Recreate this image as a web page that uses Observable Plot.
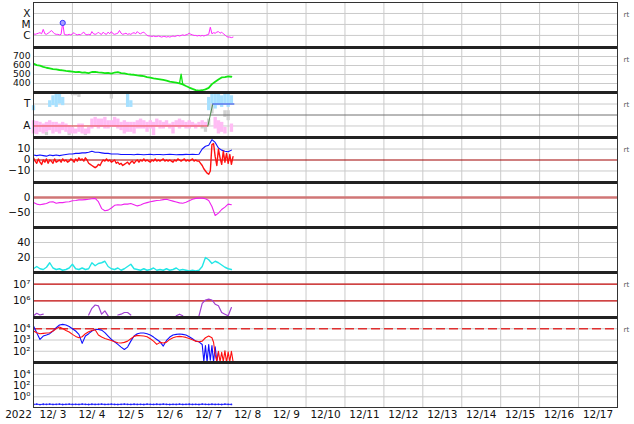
<!DOCTYPE html>
<html><head><meta charset="utf-8">
<script src="https://cdn.jsdelivr.net/npm/d3@7"></script>
<script src="https://cdn.jsdelivr.net/npm/@observablehq/plot@0.6"></script>
<style>
body{margin:0;background:#fff;}
#chart{position:relative;width:634px;height:424px;overflow:hidden;background:#fff;}
#chart svg{position:absolute;left:0;overflow:visible;background:transparent;}
</style></head><body><div id="chart"></div>
<script>
// ---------- labels ----------
const yearLabel = "2022";
const xTickLabels = ["12/ 3","12/ 4","12/ 5","12/ 6","12/ 7","12/ 8","12/ 9","12/10","12/11","12/12","12/13","12/14","12/15","12/16","12/17"];
const rtLabel = "rt";
const xrayTicks = [1e-4, 1e-5, 1e-6];
const xrayLabels = ["X", "M", "C"];
const speedTicks = [700, 600, 500, 400];
const sectorTicks = [1, -1];
const sectorLabels = ["T", "A"];
const imfTicks = [10, 0, -10];
const dstTicks = [0, -50];
const densTicks = [40, 20];
const e7Ticks = [1e7, 1e6];
const e7Labels = ["10⁷", "10⁶"];
const e8Ticks = [1e4, 1e3, 1e2];
const e8Labels = ["10⁴", "10³", "10²"];
const e9Ticks = [1e4, 1e2, 1];
const e9Labels = ["10⁴", "10²", "10⁰"];

// ---------- data (hours from 2022-12-03 00:00 UT) ----------
// X-ray flux, log10 W/m2, hourly
const xrayLog = [-5.85,-5.9,-5.85,-5.8,-5.75,-5.85,-5.45,-5.85,-5.9,-5.8,-5.7,-5.55,-5.7,-5.85,-5.9,-5.9,-5.95,-5.9,-4.86,-5.9,
 -5.95,-5.95,-5.9,-5.95,-5.85,-5.75,-5.9,-5.95,-5.9,-5.95,-5.8,-5.7,-5.9,-5.95,-5.9,-5.95,-5.65,-5.85,-5.9,-5.85,
 -5.7,-5.85,-5.9,-5.7,-5.85,-5.9,-5.7,-5.85,-5.65,-5.85,-5.9,-5.85,-5.8,-5.55,-5.8,-5.9,-5.85,-5.8,-5.9,-5.85,
 -5.9,-5.8,-5.75,-5.85,-5.65,-5.8,-5.85,-5.75,-5.7,-5.85,-6.0,-6.05,-6.05,-6.1,-6.05,-6.1,-6.1,-6.05,-6.1,-6.15,
 -6.1,-6.1,-6.15,-6.1,-6.15,-6.1,-6.05,-6.1,-6.05,-6.0,-6.05,-6.0,-5.95,-6.0,-5.95,-5.9,-5.8,-5.9,-5.95,-6.0,
 -6.0,-6.05,-6.0,-6.05,-6.0,-6.05,-6.0,-5.95,-5.9,-5.25,-5.85,-5.75,-5.8,-5.7,-5.65,-5.8,-5.7,-5.85,-5.95,-6.1,
 -6.15,-6.15,-6.2,-6.15];
const flareHours = [18];
const flareFlux = [1.38e-5];

// Solar wind speed km/s, 2-hourly
const speed = [620,605,598,585,575,568,560,556,550,545,540,536,532,526,528,520,522,515,528,530,
 524,520,516,518,510,522,526,515,512,505,500,497,490,486,482,472,466,458,452,446,
 440,432,422,416,410,402,390,372,355,340,326,320,325,335,352,393,420,445,467,472,480,475];
const speedSpikeHours = [90, 91, 92];
const speedSpike = [402, 505, 390];

// Sector (IMF direction) spread, 2-hourly, in units where T=+1, A=-1
const pinkHi = [-0.52,-0.58,-0.67,-0.82,-0.67,-0.52,-0.67,-0.67,-0.82,-0.67,
 -0.82,-0.97,-1.13,-1.28,-0.82,-0.82,-1.28,-1.13,-0.37,-0.22,
 -0.37,-0.37,-0.22,-0.52,-0.52,-0.22,-0.37,-0.67,-0.52,-0.67,
 -0.67,-0.67,-0.52,-0.37,-0.52,-0.67,-0.52,-0.67,-0.37,-0.52,
 -0.67,-0.52,-0.82,-0.67,-0.52,-0.37,-0.52,-0.67,-0.52,-0.67,
 -0.82,-0.67,-0.52,-0.67,null,null,-0.22,-0.52,-0.67,-1.13,null,-0.82];
const pinkLo = [-1.73,-1.79,-1.58,-1.73,-1.58,-1.43,-1.73,-1.58,-1.73,-1.43,
 -1.58,-1.73,-1.73,-1.73,-1.58,-1.73,-1.79,-1.73,-1.28,-1.13,
 -1.28,-1.13,-1.28,-1.28,-1.13,-1.13,-1.28,-1.43,-1.73,-1.58,
 -1.58,-1.73,-1.28,-1.28,-1.28,-1.58,-1.28,-1.88,-1.13,-1.28,
 -1.28,-1.13,-1.28,-1.73,-1.13,-1.28,-1.13,-1.28,-1.28,-1.13,
 -1.28,-1.13,-0.97,-1.13,null,null,-1.28,-1.73,-1.58,-1.73,null,-1.58];
const blueHours = [0,10,12,14,16,18,58,60,108,110,112,114,116,118,120,122];
const blueHi = [0.85,1.3,1.75,1.9,1.9,1.6,1.9,1.3,1.6,2.0,1.9,1.9,1.75,1.9,1.9,1.75];
const blueLo = [0.39,0.69,0.85,0.69,0.995,0.85,0.69,0.69,0.39,0.995,0.54,0.85,0.69,0.995,0.69,0.995];
const grayHours = [8,22,24,26,28,32,48,104,106,108,110,118,120];
const grayHi = [-1.58,-1.43,2.0,2.0,1.9,-1.58,1.9,-0.97,-1.13,-0.37,0.995,0.39,0.39];
const grayLo = [-1.88,-1.88,1.75,1.75,1.6,-1.88,1.45,-1.28,-1.58,-0.97,0.09,-0.22,-0.52];
const sectorHours = [0, 107.5, 110.5, 123.5];
const sectorState = [-1, -1, 1, 1];

// IMF Bt (2-hourly) and Bz (hourly), nT
const bt = [4.5,4.0,4.5,4.0,3.5,4.5,4.0,4.5,4.0,4.5,5.0,5.5,5.5,6.0,6.0,6.5,6.5,7.0,8.0,7.0,
 7.0,6.5,6.0,6.0,5.5,5.5,5.5,5.0,5.0,5.0,5.0,4.8,5.2,5.0,4.8,5.0,5.2,4.8,5.0,5.0,
 4.8,5.0,5.2,5.0,4.8,5.0,4.9,5.1,5.0,5.2,5.0,5.2,10.0,12.5,13.5,18.5,16.0,11.0,9.0,8.0,7.5,9.0];
const bz = [2,-1,-3,1,-2,-4, 0,-2,1,-3,0,-1, -3,1,-2,-1,0,-2, 1,-1,0,-2,-1,1, 0,-2,1,-1,2,0,
 1,-1,2,0,-3,-4, -5,-6,-7,-6,-4,-5, -2,0,-1,1,-1,0, -2,-1,0,-3,-2,-4, -3,-5,-4,-3,-2,-4,
 -2,-1,-3,-1,0,-2, 0,-1,1,-1,0,-1, -2,0,-1,1,-1,0, -1,0,1,-1,0,-1, 0,-1,-2,0,-1,1,
 0,-1,0,1,-1,0, -1,0,1,-1,0,-1, -1,-3,-5,-8,-10,-12, -13,-10,14,15,3,-5, 10,2,-4,8,-2,6, -3,5,-4,3];

// Dst nT, 2-hourly
const dst = [-17,-22,-24,-22,-20,-15,-14,-19,-17,-17,-15,-14,-11,-10,-8,-8,-7,-6,-4,-3,
 -14,-37,-44,-42,-35,-26,-24,-25,-22,-22,-20,-24,-28,-25,-20,-17,-14,-12,-10,-9,
 -7,-6,-9,-12,-15,-18,-19,-16,-11,-6,-3,-2,-2,-4,-10,-30,-60,-52,-40,-32,-22,-24];

// Density, 2-hourly
const dens = [5,8,5,4,7,13,6,4,5,3,4,6,11,5,4,6,4,5,13,9,
 12,13,15,8,5,4,6,3,5,8,11,5,4,3,5,3,4,6,3,4,
 3,5,3,4,6,3,4,3,2,3,2,3,8,20,17,12,15,13,10,7,5,4];

// Electron flux (log10), 2-hourly, null = no data
const e7Log = [5.1,5.25,5.15,5.2,null,null,null,null,null,null,
 null,null,null,null,null,null,null,5.15,5.55,5.75,
 5.7,5.2,5.4,5.1,null,null,5.15,5.2,5.3,5.3,
 5.15,null,null,null,null,null,null,null,null,null,
 null,5.05,null,null,5.1,5.2,5.1,null,null,null,
 null,5.1,5.85,6.05,6.1,6.05,5.8,5.7,5.3,5.2,5.1,5.6];

// Particle flux (log10), two sources
const e8BlueLog = [4.24,3.65,3.05,3.35,3.44,3.56,3.8,4.09,4.33,4.39,4.33,4.2,4.0,3.8,3.5,2.7,3.35,3.56,3.8,3.94,
 3.94,3.88,3.65,3.35,3.05,2.84,2.61,2.37,2.16,2.37,2.9,3.35,3.56,3.62,3.62,3.56,3.44,3.26,3.05,2.84,
 2.46,2.96,3.26,3.44,3.5,3.53,3.5,3.44,3.29,3.11,2.9,2.84];
const e8BlueTailStart = 104;
const e8BlueTailLog = [2.6,1.1,2.5,1.05,2.6,1.2,2.5,1.05,2.4,1.1,1.9];
const e8RedLog = [3.8,3.65,3.56,3.59,3.62,3.65,3.8,4.0,4.15,4.03,3.85,3.71,3.5,3.32,3.2,3.29,3.56,3.74,3.85,3.91,
 3.44,3.26,3.14,3.05,2.96,2.84,2.76,2.73,2.79,2.9,3.11,3.32,3.41,3.38,3.35,3.29,3.11,2.9,2.61,2.79,
 2.73,2.81,3.05,3.2,3.29,3.32,3.29,3.23,3.14,3.02,2.9,2.84,2.9,3.2,3.35];
const e8RedTailStart = 110;
const e8RedTailLog = [3.2,2.8,1.7,1.1,2.0,1.05,1.9,1.1,2.05,1.0,1.95,1.1,2.0,1.1];

// bottom panel, 2-hourly
const e9 = [0.045,0.05,0.042,0.048,0.046,0.05,0.044,0.047,0.05,0.043,0.046,0.049,0.045,0.047,0.044,0.05,0.046,0.043,0.048,0.045,
 0.047,0.05,0.044,0.046,0.049,0.045,0.043,0.047,0.05,0.046,0.044,0.048,0.045,0.047,0.043,0.049,0.046,0.044,0.048,0.045,
 0.05,0.046,0.043,0.047,0.045,0.049,0.044,0.046,0.048,0.045,0.047,0.043,0.05,0.046,0.044,0.048,0.045,0.047,0.043,0.049,0.046,0.045];

// ---------- helpers ----------
const START = Date.UTC(2022, 11, 3), END = Date.UTC(2022, 11, 18);
const HOUR = 3600e3, DAY = 24 * HOUR;
const at = h => new Date(START + h * HOUR);
const seq = (vals, step, t0 = 0, f = v => v) => vals.map((v, i) => ({t: at(t0 + i * step), v: v == null ? null : f(v)}));
const pts = (hours, vals, f = v => v) => hours.map((h, i) => ({t: at(h), v: f(vals[i])}));
const pow10 = v => Math.pow(10, v);
const bands = (hours, hi, lo) => hours.map((h, i) => ({t: at(h), hi: hi[i], lo: lo[i]})).filter(d => d.hi != null);

const chart = document.getElementById("chart");
const PH = 45, TOP0 = 2;
const days = d3.utcDay.range(new Date(START + 1), new Date(END));
const noons = xTickLabels.map((_, i) => new Date(START + (i + 0.5) * DAY));
const GRID = "#cacaca";
const FONT = "DejaVu Sans, sans-serif";

function panel(k, cfg) {
  const last = k === 8;
  const [y0, y1] = cfg.y.domain;
  const fs = cfg.fontSize || 10.5;
  const fmt = d => { const i = cfg.ticks.findIndex(t => Math.abs(t - d) <= Math.abs(t) * 1e-9); return i < 0 ? "" : (cfg.labels ? cfg.labels[i] : String(cfg.ticks[i]).replace("-", "−")); };
  const marks = [
    Plot.ruleX(days, {stroke: GRID}),
    Plot.ruleY(cfg.grid || cfg.ticks, {stroke: GRID}),
    ...cfg.marks,
    Plot.axisY({ticks: cfg.ticks, tickSize: 0, tickPadding: 3, tickFormat: fmt, fontSize: fs, fill: "#111", label: null}),
    Plot.frame({stroke: "#333"})
  ];
  if (k > 0) marks.push(Plot.ruleY([y1], {stroke: "#222", strokeWidth: 3}));
  if (!last) marks.push(Plot.ruleY([y0], {stroke: "#222", strokeWidth: 3}));
  if (cfg.rt) marks.push(Plot.text([rtLabel], {frameAnchor: "top-right", dx: 6, dy: 10, textAnchor: "start", fontSize: 7, fill: "#555"}));
  if (last) {
    marks.push(Plot.axisX({ticks: noons, tickSize: 0, tickPadding: 3, fontSize: 10.5, fill: "#111", label: null,
      tickFormat: d => xTickLabels[Math.round((d - START) / DAY - 0.5)]}));
    marks.push(Plot.text([yearLabel], {frameAnchor: "bottom-left", dx: -15, dy: 3, lineAnchor: "top", textAnchor: "middle", fontSize: 10.5, fill: "#111"}));
  }
  const svg = Plot.plot({
    width: 634, height: last ? PH + 18 : PH,
    marginLeft: 33, marginRight: 17, marginTop: 0, marginBottom: last ? 18 : 0,
    style: {fontFamily: FONT, fontSize: "10.5px", overflow: "visible", background: "transparent"},
    x: {type: "utc", domain: [new Date(START), new Date(END)], label: null, ...(last ? {} : {axis: null})},
    y: {...cfg.y, label: null},
    marks
  });
  svg.style.top = (TOP0 + k * PH) + "px";
  chart.appendChild(svg);
}

// 1 X-ray
panel(0, {
  y: {type: "log", domain: [Math.pow(10, -7.1), 1e-3]}, ticks: xrayTicks, labels: xrayLabels, rt: true,
  marks: [
    Plot.line(seq(xrayLog, 1, 0, pow10), {x: "t", y: "v", stroke: "#ff22ff", strokeWidth: 1, clip: true}),
    Plot.dot(pts(flareHours, flareFlux), {x: "t", y: "v", r: 2.6, stroke: "#3333ff", fill: "#a8a0ff", strokeWidth: 1})
  ]
});
// 2 speed
panel(1, {
  y: {domain: [300, 800]}, ticks: speedTicks, rt: true, fontSize: 9.2,
  marks: [
    Plot.line(seq(speed, 2), {x: "t", y: "v", stroke: "#14e614", strokeWidth: 1.8, clip: true}),
    Plot.line(pts(speedSpikeHours, speedSpike), {x: "t", y: "v", stroke: "#14e614", strokeWidth: 1.3, clip: true})
  ]
});
// 3 sector
const sectorBands = seq(pinkHi, 2).map((d, i) => ({t: d.t, hi: pinkHi[i], lo: pinkLo[i]})).filter(d => d.hi != null);
const sectorLine = pts(sectorHours, sectorState);
panel(2, {
  y: {domain: [-2.05, 2.05]}, ticks: sectorTicks, labels: sectorLabels, rt: true,
  marks: [
    Plot.ruleX(bands(grayHours, grayHi, grayLo), {x: "t", y1: "lo", y2: "hi", stroke: "#d2d2d2", strokeWidth: 3.3}),
    Plot.ruleX(sectorBands, {x: "t", y1: "lo", y2: "hi", stroke: "#ffbcf4", strokeWidth: 3.4}),
    Plot.ruleX(bands(blueHours, blueHi, blueLo), {x: "t", y1: "lo", y2: "hi", stroke: "#a6e0ff", strokeWidth: 3.3}),
    Plot.ruleY([0], {stroke: "#707070"}),
    Plot.line(sectorLine.slice(0, 2), {x: "t", y: "v", stroke: "#e84545", strokeWidth: 1}),
    Plot.line(sectorLine.slice(1, 3), {x: "t", y: "v", stroke: "#4e8a4e", strokeWidth: 1}),
    Plot.line(sectorLine.slice(2, 4), {x: "t", y: "v", stroke: "#5a78ee", strokeWidth: 1.3})
  ]
});
// 4 IMF
panel(3, {
  y: {domain: [-20.5, 20.5]}, ticks: imfTicks, grid: [10, -10], rt: true,
  marks: [
    Plot.ruleY([0], {stroke: "#a00000"}),
    Plot.line(seq(bt, 2), {x: "t", y: "v", stroke: "#1010ff", strokeWidth: 1.1, clip: true}),
    Plot.line(seq(bz, 1), {x: "t", y: "v", stroke: "#ff1010", strokeWidth: 1.4, clip: true})
  ]
});
// 5 Dst
panel(4, {
  y: {domain: [-100, 50]}, ticks: dstTicks, grid: [-50],
  marks: [
    Plot.ruleY([0], {stroke: "#d07676", strokeWidth: 2.5}),
    Plot.line(seq(dst, 2), {x: "t", y: "v", stroke: "#ee22ee", strokeWidth: 1.1, clip: true})
  ]
});
// 6 density
panel(5, {
  y: {domain: [0, 60]}, ticks: densTicks,
  marks: [
    Plot.line(seq(dens, 2), {x: "t", y: "v", stroke: "#22e6e6", strokeWidth: 1.4, clip: true})
  ]
});
// 7 electrons
panel(6, {
  y: {type: "log", domain: [1e5, Math.pow(10, 7.7)]}, ticks: e7Ticks, labels: e7Labels, rt: true,
  marks: [
    Plot.ruleY(e7Ticks, {stroke: "#cc1111", strokeWidth: 1.2}),
    Plot.line(seq(e7Log, 2, 0, pow10), {x: "t", y: "v", stroke: "#a040d0", strokeWidth: 1.2, clip: true})
  ]
});
// 8 particle flux
const blueLine = seq(e8BlueLog, 2, 0, pow10).concat(seq(e8BlueTailLog, 1, e8BlueTailStart, pow10));
const redLine = seq(e8RedLog, 2, 0, pow10).concat(seq(e8RedTailLog, 1, e8RedTailStart, pow10));
panel(7, {
  y: {type: "log", domain: [10, 1e5]}, ticks: e8Ticks, labels: e8Labels, rt: true,
  marks: [
    Plot.ruleY([1e4], {stroke: "#e03030", strokeWidth: 1.4, strokeDasharray: "9,4"}),
    Plot.line(blueLine, {x: "t", y: "v", stroke: "#1010ff", strokeWidth: 1.1, clip: true}),
    Plot.line(redLine, {x: "t", y: "v", stroke: "#ff1010", strokeWidth: 1.1, clip: true})
  ]
});
// 9 bottom
panel(8, {
  y: {type: "log", domain: [Math.pow(10, -1.9), Math.pow(10, 6.1)]}, ticks: e9Ticks, labels: e9Labels,
  marks: [
    Plot.line(seq(e9, 2), {x: "t", y: "v", stroke: "#2020ff", strokeWidth: 1, clip: true}),
    Plot.dot(seq(e9, 2), {x: "t", y: "v", r: 0.9, fill: "#2020ff", clip: true})
  ]
});
</script>
</body></html>
